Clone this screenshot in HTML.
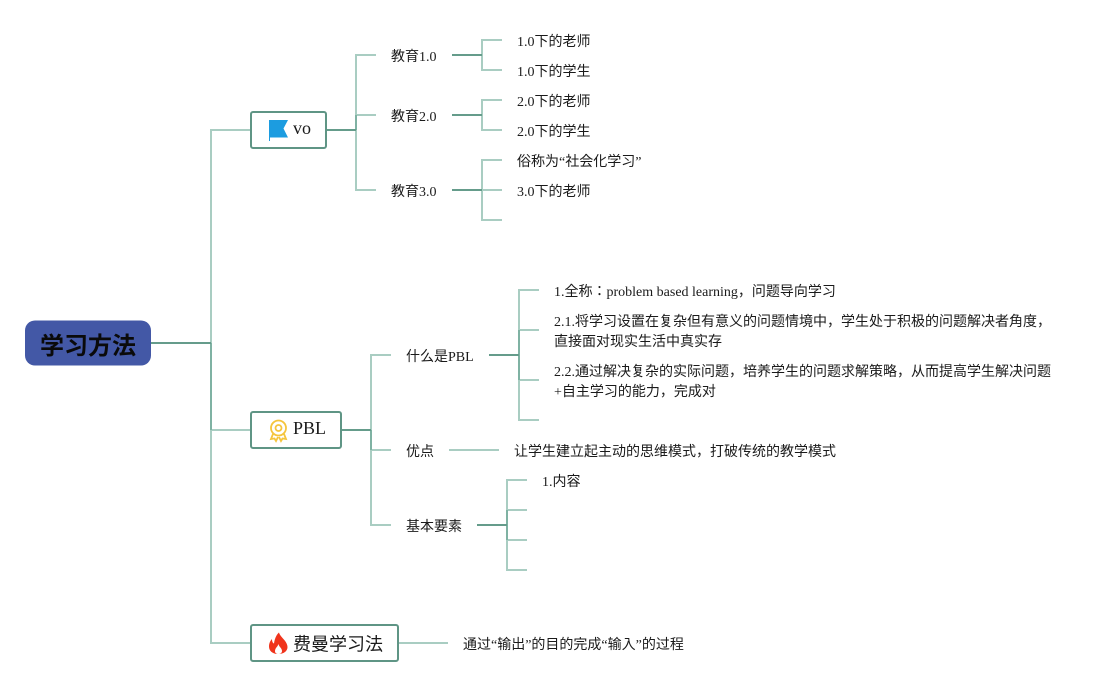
<!DOCTYPE html>
<html>
<head>
<meta charset="utf-8">
<style>
html,body{margin:0;padding:0;background:#fff;}
svg{display:block;}
text{font-family:"Liberation Serif","Noto Sans CJK JP",serif;font-size:14px;fill:#1a1a1a;}
.l{stroke:#a9cdc2;stroke-width:2;fill:none;}
.d{stroke:#659c8b;stroke-width:2;fill:none;}
.m{stroke:#7fb2a3;stroke-width:2;fill:none;}
.b{fill:#fff;stroke:#5f9585;stroke-width:2;}
</style>
</head>
<body>
<svg width="1114" height="686" viewBox="0 0 1114 686" xmlns="http://www.w3.org/2000/svg">
<rect width="1114" height="686" fill="#fff"/>

<!-- root connectors -->
<path class="l" d="M250 130H211V343M211 430V643H250M211 430H250"/>
<path class="m" d="M211 343V430"/>
<path class="d" d="M151 343H211"/>

<!-- vo branch -->
<path class="l" d="M356 115V55H376M356 115H376M356 130V190H376"/>
<path class="m" d="M356 115V130"/>
<path class="d" d="M327 130H356"/>
<path class="l" d="M482 55V40H502M482 55V70H502"/>
<path class="d" d="M452 55H482"/>
<path class="l" d="M482 115V100H502M482 115V130H502"/>
<path class="d" d="M452 115H482"/>
<path class="l" d="M482 190V160H502M482 190H502M482 190V220H502"/>
<path class="d" d="M452 190H482"/>

<!-- PBL branch -->
<path class="l" d="M371 430V355H391M371 450V525H391M371 450H391"/>
<path class="m" d="M371 430V450"/>
<path class="d" d="M342 430H371"/>
<path class="l" d="M519 330V290H539M519 330H539M519 380V420H539M519 380H539"/>
<path class="m" d="M519 330V380"/>
<path class="d" d="M489 355H519"/>
<path class="l" d="M449 450H499"/>
<path class="l" d="M507 510V480H527M507 510H527M507 540V570H527M507 540H527"/>
<path class="m" d="M507 510V540"/>
<path class="d" d="M477 525H507"/>

<!-- fm branch -->
<path class="l" d="M399 643H448"/>

<!-- root node -->
<rect x="25" y="320.500" width="126" height="45" rx="10" fill="#4358a6"/>
<text x="88" y="354" text-anchor="middle" style="font-size:24px;font-weight:bold;fill:#0a0a0a;">学习方法</text>

<!-- main nodes -->
<rect class="b" x="251" y="112" width="75" height="36" rx="2"/>
<path d="M269 120H288L283.500 128.500L288 137.500H270V141H269Z" fill="#1c9ce0"/>
<text x="293" y="134" style="font-size:18px;">vo</text>

<rect class="b" x="251" y="412" width="90" height="36" rx="2"/>
<g fill="none" stroke="#f5c53d" stroke-width="1.800">
<circle cx="278.500" cy="428" r="7.500"/>
<circle cx="278.500" cy="428" r="3"/>
<path d="M273 434L271 439L274.500 438.500L276 441L278 437M284 434L286 439L282.500 438.500L281 441L279 437"/>
</g>
<text x="293" y="434" style="font-size:18px;">PBL</text>

<rect class="b" x="251" y="625" width="147" height="36" rx="2"/>
<path d="M279 632.500C280 637 287.500 641 287.500 647C287.500 651 284 654 278 654C272 654 269 650.500 269 646.500C269 643 270.500 640.500 272 639C272 641 272.500 643 274 643.500C274.500 639.500 276 635 279 632.500Z" fill="#f0341c"/>
<path d="M278.500 644C279 647 282 648 282 651C282 653 280 654 278.500 654C276.500 654 275 653 275 651C275 648 277.500 647 278.500 644Z" fill="#fff"/>
<text x="293" y="650.500" style="font-size:18px;">费曼学习法</text>

<!-- level 2 -->
<text x="391" y="61">教育1.0</text>
<text x="391" y="121">教育2.0</text>
<text x="391" y="196">教育3.0</text>
<text x="406" y="361">什么是PBL</text>
<text x="406" y="456">优点</text>
<text x="406" y="531">基本要素</text>

<!-- level 3 -->
<text x="517" y="46">1.0下的老师</text>
<text x="517" y="76">1.0下的学生</text>
<text x="517" y="106">2.0下的老师</text>
<text x="517" y="136">2.0下的学生</text>
<text x="517" y="166">俗称为“社会化学习”</text>
<text x="517" y="196">3.0下的老师</text>

<text x="554" y="296">1.全称：problem based learning，问题导向学习</text>
<text x="554" y="326">2.1.将学习设置在复杂但有意义的问题情境中，学生处于积极的问题解决者角度，</text>
<text x="554" y="346">直接面对现实生活中真实存</text>
<text x="554" y="376">2.2.通过解决复杂的实际问题，培养学生的问题求解策略，从而提高学生解决问题</text>
<text x="554" y="396">+自主学习的能力，完成对</text>
<text x="514" y="456">让学生建立起主动的思维模式，打破传统的教学模式</text>
<text x="542" y="486">1.内容</text>
<text x="463" y="649">通过“输出”的目的完成“输入”的过程</text>
</svg>
</body>
</html>
